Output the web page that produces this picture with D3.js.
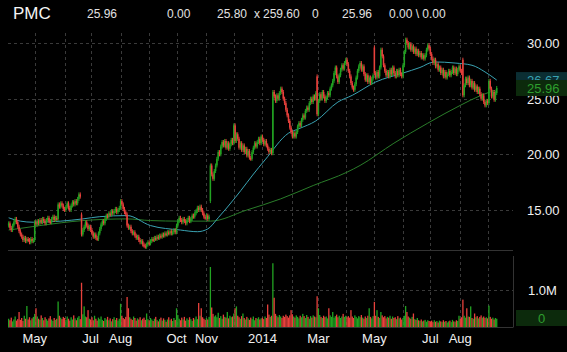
<!DOCTYPE html>
<html>
<head>
<meta charset="utf-8">
<script src="https://cdn.jsdelivr.net/npm/d3@7"></script>
<style>
  body { margin: 0; background: #000; }
  svg { display: block; font-family: 'Liberation Sans', Arial, sans-serif; }
</style>
</head>
<body>
<svg width="567" height="352"></svg>
<script>
// daily closes, one per weekday from 2013-04-03
const closes = [
  // Apr 2013
  13.8, 13.4, 13.2, 13.6, 13.9, 14.2, 13.9, 13.5, 13.1, 12.8, 12.6, 12.3, 12.5, 12.2, 12.4, 12.3, 12.1, 12.4, 12.2, 12.3,
  // May
  13.9, 13.7, 14.0, 13.8, 14.1, 13.9, 14.2, 14.0, 13.8, 14.1, 14.3, 14.0, 13.9, 14.2, 14.4, 14.1, 14.3, 14.2, 15.5, 15.3, 15.6, 15.4, 15.1,
  // Jun
  15.0, 15.3, 15.6, 15.2, 15.0, 15.4, 15.7, 15.5, 15.8, 15.6, 16.0, 16.4, 16.2, 12.8, 13.2, 13.5, 13.9, 13.6, 13.3, 13.5,
  // Jul
  13.2, 12.9, 12.6, 12.8, 12.5, 12.4, 12.9, 13.3, 13.7, 14.0, 13.8, 14.2, 14.5, 14.4, 14.7, 14.6, 14.9, 14.7, 14.9, 15.1, 14.8, 15.0, 15.2,
  // Aug
  15.8, 15.5, 15.1, 14.8, 14.6, 13.6, 13.4, 13.5, 13.1, 12.9, 13.0, 12.7, 12.5, 12.6, 12.3, 12.1, 12.2, 11.9, 11.8, 11.7, 11.9, 12.1,
  // Sep
  12.0, 12.2, 12.4, 12.3, 12.5, 12.4, 12.6, 12.5, 12.7, 12.6, 12.8, 12.7, 12.9, 12.8, 13.0, 12.9, 13.1, 12.9, 13.0, 13.2, 13.0,
  // Oct
  13.6, 14.0, 14.3, 14.1, 13.9, 14.2, 14.0, 13.8, 14.1, 14.3, 14.0, 14.2, 14.5, 14.4, 14.7, 14.9, 15.2, 15.0, 15.3, 15.0, 14.7, 14.4, 14.3,
  // Nov
  14.5, 14.2, 14.4, 19.0, 18.2, 17.8, 18.5, 19.0, 19.6, 20.2, 20.0, 20.7, 21.1, 20.8, 21.2, 20.6, 21.0, 20.5, 20.9, 21.3, 21.0,
  // Dec
  22.6, 21.2, 21.8, 21.4, 20.6, 21.0, 20.4, 20.8, 20.2, 20.5, 19.9, 20.3, 19.7, 19.6, 20.2, 20.6, 21.0, 20.7, 21.1, 21.4, 21.0, 21.6,
  // Jan 2014
  21.3, 20.9, 21.2, 20.8, 20.5, 20.2, 20.4, 20.1, 25.6, 25.2, 24.8, 25.3, 25.0, 25.5, 25.9, 25.6, 25.0, 24.6, 24.0, 23.5, 23.0, 22.4, 22.0,
  // Feb
  21.6, 21.9, 21.6, 22.0, 22.5, 22.8, 22.6, 23.1, 23.5, 23.3, 23.9, 24.2, 24.0, 24.6, 25.0, 24.7, 25.2, 25.0, 25.5, 23.6,
  // Mar
  24.8, 25.4, 25.0, 25.6, 25.2, 24.8, 25.1, 25.5, 25.3, 25.9, 26.2, 26.6, 27.3, 27.8, 27.0, 26.5, 27.1, 27.6, 28.0, 27.7, 28.2,
  // Apr
  28.5, 28.1, 27.5, 27.0, 26.4, 26.0, 25.8, 26.3, 26.9, 27.5, 27.9, 28.2, 27.6, 27.9, 27.2, 26.7, 27.1, 26.5, 26.9, 26.4, 26.8, 27.1,
  // May
  27.3, 26.9, 27.4, 27.0, 27.8, 29.4, 28.8, 28.0, 27.5, 27.1, 27.4, 27.0, 27.6, 27.2, 27.8, 27.3, 27.0, 27.5, 27.1, 27.6, 27.2, 27.0,
  // Jun
  28.0, 29.2, 30.3, 30.0, 29.6, 29.9, 29.4, 29.7, 29.2, 29.5, 29.0, 29.3, 28.9, 29.1, 28.7, 28.9, 28.6, 28.9, 29.4, 29.8, 29.5,
  // Jul
  29.0, 28.6, 28.2, 28.5, 27.9, 28.1, 27.6, 27.8, 27.3, 27.6, 27.0, 27.4, 26.9, 27.2, 27.5, 27.1, 27.4, 27.8, 27.3, 27.7, 27.2, 27.6, 27.9,
  // Aug
  27.5, 27.3, 25.3, 26.2, 26.8, 26.4, 26.9, 26.2, 26.6, 26.0, 26.4, 25.8, 26.1, 25.6, 25.9, 25.4, 25.0, 25.3, 24.7, 24.4, 24.8,
  // Sep
  24.6, 26.6, 25.9, 25.2, 25.6, 24.9, 25.5, 25.96
]

// days that opened away from the prior close: [day index, open]
const firstOpen = 13.6
const gapOpens = [[56, 14.6], [155, 15.8], [237, 27.0], [281, 29.6], [349, 28.5]]

// volume, millions of shares
const volumes = [
  .22, .18, .25, .15, .20, .28, .17, .21, .40, .19, .24, .16, .30, .22, .56, .20, .26, .18, .23, .27,
  .35, .50, .28, .22, .19, .31, .24, .18, .26, .21, .17, .23, .29, .20, .16, .24, .19, .22, .68, .30, .25, .21, .27,
  .24, .19, .28, .22, .17, .26, .20, .31, .23, .18, .25, .29, .21, 1.18, .34, .55, .28, .26, .45, .22,
  .20, .26, .18, .30, .22, .17, .25, .21, .28, .19, .16, .24, .20, .27, .18, .23, .15, .21, .26, .19, .24, .17, .22,
  .62, .30, .24, .21, .27, .80, .50, .26, .22, .19, .28, .24, .17, .23, .20, .26, .18, .22, .25, .19, .36, .21,
  .18, .24, .20, .16, .22, .27, .19, .15, .21, .25, .17, .23, .19, .14, .20, .26, .18, .22, .16, .24, .19,
  .50, .32, .22, .18, .25, .20, .27, .17, .23, .19, .26, .21, .16, .24, .20, .28, .21, .64, .30, .50, .26, .22, .19,
  .24, .20, .27, 1.60, .52, .35, .28, .31, .26, .38, .24, .29, .22, .33, .27, .25, .40, .23, .30, .26, .28,
  .36, .50, .55, .30, .26, .22, .29, .36, .24, .20, .27, .23, .19, .25, .21, .28, .18, .24, .22, .26, .20, .23,
  .25, .21, .28, .24, .60, .33, .27, .30, 1.70, .78, .35, .30, .26, .32, .28, .24, .30, .27, .33, .29, .25, .31, .45,
  .34, .28, .25, .31, .27, .23, .30, .26, .35, .29, .24, .32, .27, .22, .29, .25, .31, .28, .26, .82,
  .50, .32, .27, .24, .30, .26, .28, .23, .50, .31, .27, .40, .25, .29, .33, .26, .30, .24, .28, .35, .27,
  .30, .26, .29, .25, .45, .28, .24, .31, .27, .23, .29, .26, .32, .25, .22, .28, .24, .30, .50, .27, .23, .29,
  .67, .30, .45, .27, .24, .40, .31, .26, .29, .23, .27, .25, .30, .22, .28, .24, .26, .21, .29, .23, .25, .20,
  .24, .30, .56, .40, .28, .25, .22, .27, .36, .21, .19, .24, .18, .16, .20, .15, .17, .19, .14, .18, .16,
  .15, .17, .13, .18, .14, .16, .12, .17, .15, .13, .18, .14, .16, .12, .15, .17, .13, .19, .15, .14, .18, .16, .30,
  .22, .26, .73, .30, .25, .50, .28, .27, .55, .24, .22, .36, .26, .29, .23, .27, .31, .25, .28, .24, .26,
  .23, .57, .27, .22, .25, .20, .24, .22
]

// moving averages: [day index, value]
const ma50 = [[0, 14.3], [9, 14.0], [19, 13.9], [40, 14.0], [57, 14.2], [70, 14.4], [91, 14.5], [109, 13.6],
  [132, 13.2], [145, 13.05], [153, 13.3], [161, 14.3], [174, 16.1], [192, 18.8], [197, 19.5], [215, 21.9],
  [223, 22.3], [236, 23.0], [253, 24.7], [264, 25.3], [282, 26.5], [303, 27.3], [316, 27.8], [327, 28.3],
  [343, 28.2], [356, 28.0], [366, 27.4], [375, 26.67]]
const ma200 = [[0, 13.2], [24, 13.6], [57, 14.05], [91, 14.2], [109, 14.05], [132, 14.0], [155, 14.0],
  [183, 15.0], [209, 16.0], [234, 17.2], [260, 18.4], [270, 19.0], [296, 21.0], [322, 22.8], [347, 24.4],
  [363, 25.3], [375, 25.8]]

const priceTicks = [15, 20, 25, 30]
const monthLabels = ['May', '', 'Jul', 'Aug', '', 'Oct', 'Nov', '', '2014', '', 'Mar', '', 'May', '', 'Jul', 'Aug', '']
const headerTexts = ['25.96', '0.00', '25.80', 'x', '259.60', '0', '25.96', '0.00 \\ 0.00']
const symbol = 'PMC'
const lastMa50 = 26.67
const lastVolume = 0

const green = '#22a322'
const red = '#e8413c'
const gridColor = '#3a3a3a'

const svg = d3.select('svg')
svg.append('rect').attr('width', 567).attr('height', 352).attr('fill', '#000')

// weekday calendar
const dates = []
for (let d = new Date(2013, 3, 3); dates.length < closes.length; d.setDate(d.getDate() + 1)) {
  if (d.getDay() % 6 !== 0) dates.push(new Date(d))
}
const monthStarts = d3.range(1, dates.length).filter(i => dates[i].getMonth() !== dates[i - 1].getMonth())

const opens = closes.map((c, i) => i === 0 ? firstOpen : closes[i - 1])
gapOpens.forEach(function (g) { opens[g[0]] = g[1] })

const left = 8
const right = 513
const x = d3.scaleLinear().domain([-0.5, closes.length + 11.5]).range([left, right])
const y = d3.scaleLinear().domain([15, 30]).range([210, 43])
const vy = d3.scaleLinear().domain([0, 1]).range([327, 289.5])

// grid
const grid = svg.append('g').attr('stroke', gridColor).attr('stroke-dasharray', '3,3').attr('stroke-width', 1)
grid.selectAll('.vp').data(monthStarts).enter().append('line')
  .attr('x1', d => Math.round(x(d)) + 0.5).attr('x2', d => Math.round(x(d)) + 0.5)
  .attr('y1', 33).attr('y2', 250)
grid.selectAll('.vv').data(monthStarts).enter().append('line')
  .attr('x1', d => Math.round(x(d)) + 0.5).attr('x2', d => Math.round(x(d)) + 0.5)
  .attr('y1', 256).attr('y2', 327)
grid.selectAll('.h').data(priceTicks).enter().append('line')
  .attr('x1', left).attr('x2', right)
  .attr('y1', d => Math.round(y(d)) + 0.5).attr('y2', d => Math.round(y(d)) + 0.5)
grid.append('line').attr('x1', left).attr('x2', right)
  .attr('y1', Math.round(vy(1)) + 0.5).attr('y2', Math.round(vy(1)) + 0.5)

// panel borders
const border = svg.append('g').attr('stroke', '#333').attr('stroke-width', 1)
border.append('line').attr('x1', left).attr('x2', right).attr('y1', 250.5).attr('y2', 250.5)
border.append('line').attr('x1', left).attr('x2', right).attr('y1', 327.5).attr('y2', 327.5)
border.append('line').attr('x1', right + 0.5).attr('x2', right + 0.5).attr('y1', 256).attr('y2', 327.5)

// moving averages
const maLine = d3.line().x(d => x(d[0])).y(d => y(d[1])).curve(d3.curveMonotoneX)
svg.append('path').attr('d', maLine(ma200)).attr('fill', 'none').attr('stroke', '#2a7d2a').attr('stroke-width', 1)
svg.append('path').attr('d', maLine(ma50)).attr('fill', 'none').attr('stroke', '#3aa3b3').attr('stroke-width', 1)

// candles: thin wick a couple of pixels past the body, then the body
const bw = 1.5
const wick = 2
const candles = svg.append('g')
candles.selectAll('line').data(closes).enter().append('line')
  .attr('x1', (d, i) => x(i)).attr('x2', (d, i) => x(i))
  .attr('y1', (d, i) => y(Math.max(d, opens[i])) - wick)
  .attr('y2', (d, i) => y(Math.min(d, opens[i])) + wick)
  .attr('stroke', (d, i) => d >= opens[i] ? green : red)
  .attr('stroke-width', 1)
candles.selectAll('rect').data(closes).enter().append('rect')
  .attr('x', (d, i) => x(i) - bw / 2)
  .attr('y', (d, i) => y(Math.max(d, opens[i])))
  .attr('width', bw)
  .attr('height', (d, i) => Math.max(2, Math.abs(y(d) - y(opens[i]))))
  .attr('fill', (d, i) => d >= opens[i] ? green : red)

// volume
svg.append('g').selectAll('rect').data(volumes).enter().append('rect')
  .attr('x', (d, i) => x(i) - 0.65)
  .attr('y', d => vy(d))
  .attr('width', 1.3)
  .attr('height', d => vy(0) - vy(d))
  .attr('fill', (d, i) => closes[i] >= opens[i] ? green : red)

// right axis labels
svg.selectAll('.pl').data(priceTicks).enter().append('text')
  .attr('x', 527).attr('y', d => y(d) + 5)
  .attr('fill', '#f0f0f0').attr('font-size', 13)
  .text(d => d.toFixed(2))

// last-value boxes
const maBox = svg.append('g').attr('transform', 'translate(516,' + y(lastMa50) + ')')
maBox.append('rect').attr('x', 0).attr('y', -8).attr('width', 51).attr('height', 16).attr('fill', '#0b2e33')
maBox.append('text').attr('x', 11).attr('y', 5).attr('fill', '#3aa3b3').attr('font-size', 13).text(lastMa50.toFixed(2))
const lastClose = closes[closes.length - 1]
const cBox = svg.append('g').attr('transform', 'translate(516,' + y(lastClose) + ')')
cBox.append('rect').attr('x', 0).attr('y', -8).attr('width', 51).attr('height', 16).attr('fill', '#0c2a0c')
cBox.append('text').attr('x', 11).attr('y', 5).attr('fill', '#2e9e2e').attr('font-size', 13).text(lastClose.toFixed(2))

// volume labels
svg.append('text').attr('x', 528).attr('y', vy(1) + 5).attr('fill', '#f0f0f0').attr('font-size', 13).text('1.0M')
svg.append('rect').attr('x', 516).attr('y', vy(0) - 17).attr('width', 51).attr('height', 16).attr('fill', '#0c2a0c')
svg.append('text').attr('x', 538).attr('y', vy(0) - 4).attr('fill', '#2e9e2e').attr('font-size', 13).text(lastVolume)

// month labels
svg.selectAll('.ml').data(monthStarts).enter().append('text')
  .attr('x', d => x(d)).attr('y', 343)
  .attr('text-anchor', 'middle')
  .attr('fill', '#f0f0f0').attr('font-size', 13)
  .text((d, i) => monthLabels[i] || '')

// header
svg.append('text').attr('x', 13).attr('y', 19).attr('fill', '#f4f4f4').attr('font-size', 17).text(symbol)
const headerX = [87, 167, 217, 254, 263, 312, 342, 389]
svg.selectAll('.hd').data(headerTexts).enter().append('text')
  .attr('x', (d, i) => headerX[i]).attr('y', 18)
  .attr('fill', '#e2e2e2').attr('font-size', 12)
  .text(d => d)
</script>
</body>
</html>
